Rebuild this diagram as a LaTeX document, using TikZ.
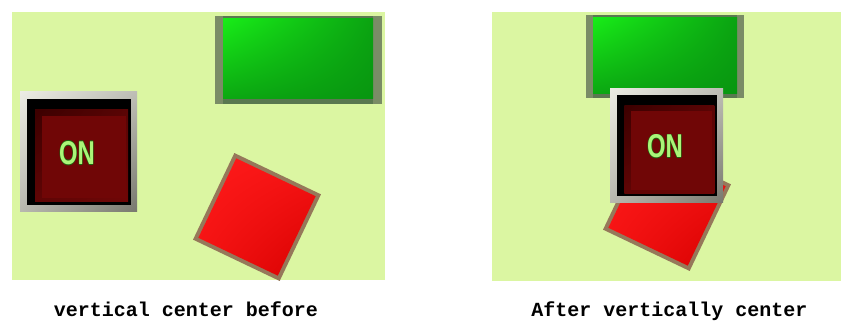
\documentclass[tikz,border=0pt]{standalone}
\usepackage{fontspec}
\usetikzlibrary{shadings}
\newfontfamily\capfont{Liberation Mono}
\newfontfamily\btnfont{Liberation Sans}
\definecolor{panelbg}{RGB}{219,246,162}
\definecolor{gborder}{RGB}{122,140,102}
\definecolor{gborderdk}{RGB}{90,120,80}
\definecolor{gbright}{RGB}{24,236,24}
\definecolor{gdark}{RGB}{8,150,16}
\definecolor{rborder}{RGB}{150,120,90}
\definecolor{rbright}{RGB}{255,26,26}
\definecolor{rdark}{RGB}{215,0,0}
\definecolor{btnred}{RGB}{112,6,6}
\definecolor{btndark}{RGB}{60,0,0}
\definecolor{silverhi}{RGB}{236,236,228}
\definecolor{silverlo}{RGB}{120,120,110}
\definecolor{ontext}{RGB}{170,245,120}
\definecolor{onedge}{RGB}{30,100,15}
\tikzset{
  panel/.style={fill=panelbg, draw=none},
  caption/.style={font=\capfont\bfseries\fontsize{20}{20}\selectfont, anchor=base, inner sep=0pt},
  ontxt/.style={font=\btnfont\bfseries\fontsize{33}{33}\selectfont, text=ontext, xscale=0.72, inner sep=0pt},
}
\newcommand{\greenbox}[8]{% outer x0 y0 x1 y1, inner x0 y0 x1 y1
  \fill[gborder] (#1,#2) rectangle (#3,#4);
  \fill[gborderdk] (#5,#2) rectangle (#7,#4);
  \shade[upper left=gbright, upper right=gdark!85!gbright, lower left=gdark!80!gbright, lower right=gdark] (#5,#6) rectangle (#7,#8);
}
\newcommand{\redsquare}[3]{% name cx cy
  \begin{scope}[shift={(#2,#3)}, rotate=-25.5]
    \fill[rborder] (-48,-48) rectangle (48,48);
    \shade[upper left=rbright, upper right=rbright!80!rdark, lower left=rbright!70!rdark, lower right=rdark] (-44,-44) rectangle (44,44);
    \coordinate (#1) at (0,0);
  \end{scope}
}
\newcommand{\onbutton}[5]{% name x0 y0 xscale yscale
  \begin{scope}[shift={(#2,#3)}, xscale=#4, yscale=#5]
    \shade[upper left=silverhi, upper right=silverhi!60!silverlo, lower left=silverhi!55!silverlo, lower right=silverlo] (0,0) rectangle (117,120);
    \fill[black] (7,7) rectangle (111,113);
    \shade[upper left=btndark, upper right=btnred!80!black, lower left=btnred!85!black, lower right=btnred] (15,10) rectangle (108,102);
    \fill[btnred] (22,14) rectangle (106,96);
    \coordinate (#1) at (57,59);
  \end{scope}
  \foreach \dx/\dy in {-0.7/0,0.7/0,0/0.7,0/-0.7}{
    \node[ontxt, xshift=\dx pt, yshift=\dy pt] at (#1) {\textcolor{onedge}{ON}};
  }
  \node[ontxt] at (#1) {ON};
}
\begin{document}
\begin{tikzpicture}[x=1pt,y=1pt]
\useasboundingbox (0,0) rectangle (841,321);
\fill[white] (0,0) rectangle (841,321);
% left panel
\fill[panel] (12,41) rectangle (385,309);
\greenbox{215}{217}{382}{305}{223}{222}{373}{302}
\redsquare{rsqL}{257}{104}
\onbutton{onL}{20}{109}{1}{1}
\node[caption] (capL) at (186,4) {vertical center before};
% right panel
\fill[panel] (492,40) rectangle (841,309);
\redsquare{rsqR}{667}{114}
\greenbox{586}{223}{744}{306}{593}{227}{737}{303}
\onbutton{onR}{610}{118}{0.966}{0.958}
\node[caption] (capR) at (669.5,4) {After vertically center};
\end{tikzpicture}
\end{document}
